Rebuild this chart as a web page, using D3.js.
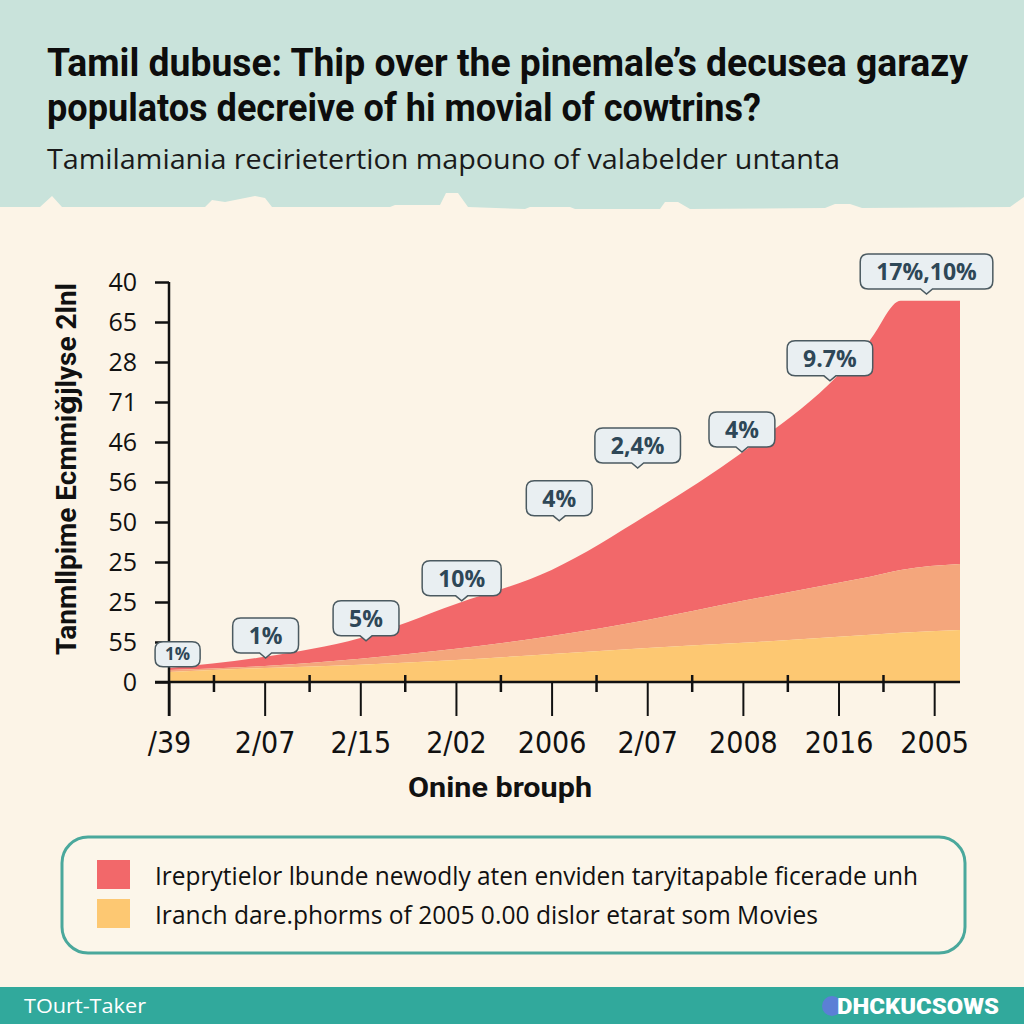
<!DOCTYPE html>
<html><head><meta charset="utf-8">
<script src="https://cdn.jsdelivr.net/npm/d3@7"></script>
<style>html,body{margin:0;padding:0;background:#fcf4e7;} svg{display:block}</style>
</head><body><svg id="c" width="1024" height="1024"></svg>
<script>
// ---- data ----
const categories = ["/39","2/07","2/15","2/02","2006","2/07","2008","2016","2005"];
const yTickLabels = ["0","55","25","25","50","56","46","71","28","65","40"];
const sampleIdx = [0,1,2,3,4,5,6,7,7.33,7.65,8.27];
const yellowTop = [0.25,0.35,0.43,0.55,0.70,0.85,0.98,1.13,1.18,1.23,1.30];
const salmonTop = [0.30,0.40,0.58,0.83,1.15,1.55,2.03,2.48,2.63,2.80,2.95];
const redTop    = [0.35,0.63,1.10,1.95,2.80,4.18,5.75,7.68,8.55,9.53,9.53];
const bubbleLabels = ["1%","1%","5%","10%","4%","2,4%","4%","9.7%","17%,10%"];
const bubbleIdx = [0.09,1.01,2.06,3.06,4.08,4.9,5.99,6.91,7.92];
const bubbleVal = [0.38,0.60,1.03,2.03,4.03,5.35,5.75,7.53,9.70];
const legendLabels = ["Ireprytielor lbunde newodly aten enviden taryitapable ficerade unh",
                      "Iranch dare.phorms of 2005 0.00 dislor etarat som Movies"];
const titleLines = ["Tamil dubuse: Thip over the pinemale\u2019s decusea garazy",
                    "populatos decreive of hi movial of cowtrins?"];
const subtitle = "Tamilamiania recirietertion mapouno of valabelder untanta";
const yTitle = "Tanmllpime Ecmmi\u01e7jlyse 2lnl";
const xTitle = "Onine brouph";

// ---- setup ----
const svg = d3.select("#c");
const C = {bg:"#fcf4e7", mint:"#c9e3db", red:"#f2686a", salmon:"#f4a67c", yellow:"#fdc872",
           ink:"#111", teal:"#31a99c", bubbleFill:"#e9eff2", bubbleStroke:"#4b5a61", bubbleText:"#2e4757"};
svg.append("rect").attr("width",1024).attr("height",1024).attr("fill",C.bg);

// header mint band with ragged edge (decorative)
const edge = [[0,207],[40,207],[52,196],[62,207],[205,207],[212,200],[225,202],[240,199],[255,196],[265,198],[272,207],[390,207],[395,205],[440,205],[446,193],[458,193],[468,207],[525,209],[530,207],[570,207],[575,209],[660,209],[665,202],[678,202],[690,209],[825,208],[835,204],[850,204],[862,208],[1010,207],[1024,197]];
svg.append("path").attr("fill",C.mint)
  .attr("d", "M0,0 L1024,0 " + edge.slice().reverse().map(p=>"L"+p[0]+","+p[1]).join(" ") + " Z");

// titles
svg.selectAll("text.title").data(titleLines).join("text")
  .attr("x",47).attr("y",(d,i)=>76+i*45)
  .attr("font-family","Roboto, 'DejaVu Sans', sans-serif").attr("font-weight",700)
  .attr("font-size",38).attr("fill","#0d0d0d")
  .attr("textLength",(d,i)=>i===0?921:714).attr("lengthAdjust","spacingAndGlyphs")
  .text(d=>d);
svg.append("text").attr("x",47).attr("y",169)
  .attr("font-family","'Open Sans', Roboto, sans-serif").attr("font-weight",400)
  .attr("font-size",28).attr("fill","#1a1a1a")
  .attr("textLength",793).attr("lengthAdjust","spacingAndGlyphs").text(subtitle);

// ---- scales ----
const x = d3.scaleLinear().domain([0, d3.max(sampleIdx)]).range([169, 960]);
const y = d3.scaleLinear().domain([0, 10]).range([682, 282]);

const rows = sampleIdx.map((s,i)=>({s, yl:yellowTop[i], sl:salmonTop[i], rd:redTop[i]}));
const curve = d3.curveMonotoneX;
const g = svg.append("g");
g.append("path").datum(rows).attr("fill",C.red)
  .attr("d", d3.area().curve(curve).x(d=>x(d.s)).y0(d=>y(d.sl)).y1(d=>y(d.rd)));
g.append("path").datum(rows).attr("fill",C.salmon)
  .attr("d", d3.area().curve(curve).x(d=>x(d.s)).y0(d=>y(d.yl)).y1(d=>y(d.sl)));
g.append("path").datum(rows).attr("fill",C.yellow)
  .attr("d", d3.area().curve(curve).x(d=>x(d.s)).y0(y(0)).y1(d=>y(d.yl)));

// ---- axes ----
const yAxis = d3.axisLeft(y).tickValues(d3.range(0,11)).tickSize(14).tickPadding(18)
  .tickFormat(d=>yTickLabels[d]);
const ya = svg.append("g").attr("transform","translate(169,0)").call(yAxis);
ya.select(".domain").remove();
ya.selectAll("line").attr("stroke",C.ink).attr("stroke-width",2.5);
ya.selectAll("text").attr("font-family","'Open Sans', 'DejaVu Sans', sans-serif")
  .attr("font-size",25).attr("fill","#111");
svg.append("line").attr("x1",169).attr("x2",169).attr("y1",y(10)).attr("y2",716)
  .attr("stroke",C.ink).attr("stroke-width",2.5);

const xAxis = d3.axisBottom(x).tickValues(d3.range(0,categories.length)).tickSize(34).tickPadding(10)
  .tickFormat(d=>categories[d]);
const xa = svg.append("g").attr("transform",`translate(0,${y(0)})`).call(xAxis);
xa.select(".domain").remove();
xa.selectAll("line").attr("stroke",C.ink).attr("stroke-width",2);
xa.selectAll("text").attr("font-family","'Liberation Sans Narrow', 'DejaVu Sans Condensed', sans-serif")
  .attr("font-size",30).attr("fill","#111").attr("dy","0.9em");
svg.append("line").attr("x1",155).attr("x2",960).attr("y1",y(0)).attr("y2",y(0))
  .attr("stroke",C.ink).attr("stroke-width",2.5);
// minor ticks
const minor = d3.range(0,categories.length-1).map(i=>i+0.47);
svg.append("g").selectAll("line").data(minor).join("line")
  .attr("x1",d=>x(d)).attr("x2",d=>x(d)).attr("y1",y(0)-7).attr("y2",y(0)+10)
  .attr("stroke",C.ink).attr("stroke-width",2.5);

// axis titles
svg.append("text").attr("transform",`translate(76,${469}) rotate(-90)`).attr("text-anchor","middle")
  .attr("font-family","Roboto, 'DejaVu Sans', sans-serif").attr("font-weight",700)
  .attr("font-size",27).attr("fill","#111")
  .attr("textLength",372).attr("lengthAdjust","spacingAndGlyphs").text(yTitle);
svg.append("text").attr("x",500).attr("y",797).attr("text-anchor","middle")
  .attr("font-family","Roboto, 'DejaVu Sans', sans-serif").attr("font-weight",700)
  .attr("font-size",28).attr("fill","#111")
  .attr("textLength",184).attr("lengthAdjust","spacingAndGlyphs").text(xTitle);

// ---- bubbles ----
const bub = svg.append("g").selectAll("g").data(bubbleLabels.map((t,i)=>({t, bx:bubbleIdx[i], bv:bubbleVal[i], i}))).join("g");
bub.each(function(d){
  const sel = d3.select(this);
  const small = d.i===0;
  const fs = small?17:23, h = small?25:35, ptr = small?0:5;
  const tx = x(d.bx), ty = y(d.bv);
  const txt = sel.append("text").attr("font-family","'Open Sans', Lato, sans-serif").attr("font-weight",700)
    .attr("font-size",fs).attr("fill",C.bubbleText).attr("text-anchor","middle").text(d.t);
  const w = txt.node().getComputedTextLength() + (small?20:32);
  const bottom = ty - ptr, top = bottom - h, l = tx - w/2, r = tx + w/2, rr = 8;
  const p = `M${l+rr},${top} H${r-rr} Q${r},${top} ${r},${top+rr} V${bottom-rr} Q${r},${bottom} ${r-rr},${bottom}`
    + (ptr?` H${tx+6} L${tx},${ty} L${tx-6},${bottom}`:"")
    + ` H${l+rr} Q${l},${bottom} ${l},${bottom-rr} V${top+rr} Q${l},${top} ${l+rr},${top} Z`;
  sel.insert("path","text").attr("d",p).attr("fill",C.bubbleFill).attr("stroke",C.bubbleStroke).attr("stroke-width",1.5);
  txt.attr("x",tx).attr("y",top+h/2).attr("dy","0.36em");
});

// ---- legend ----
svg.append("rect").attr("x",62).attr("y",837).attr("width",903).attr("height",116).attr("rx",26)
  .attr("fill","#fcf6ea").attr("stroke","#4aa89c").attr("stroke-width",3);
const lg = svg.append("g").selectAll("g").data(legendLabels).join("g")
  .attr("transform",(d,i)=>`translate(97,${860+i*39})`);
lg.append("rect").attr("width",33).attr("height",29).attr("fill",(d,i)=>i===0?C.red:C.yellow);
lg.append("text").attr("x",58).attr("y",25).attr("font-family","'Open Sans', sans-serif")
  .attr("font-size",26).attr("fill","#111")
  .attr("textLength",(d,i)=>i===0?763:663).attr("lengthAdjust","spacingAndGlyphs").text(d=>d);

// ---- footer ----
svg.append("rect").attr("x",0).attr("y",987).attr("width",1024).attr("height",37).attr("fill",C.teal);
svg.append("text").attr("x",24).attr("y",1013).attr("font-family","'Open Sans', sans-serif")
  .attr("font-size",20).attr("fill","#fff").attr("textLength",122).attr("lengthAdjust","spacingAndGlyphs").text("TOurt-Taker");
svg.append("circle").attr("cx",832).attr("cy",1006).attr("r",10).attr("fill","#5b7fd6");
svg.append("text").attr("x",999).attr("y",1014).attr("text-anchor","end").attr("font-family","Roboto, sans-serif")
  .attr("font-weight",900).attr("font-size",22).attr("fill","#fff")
  .attr("textLength",162).attr("lengthAdjust","spacingAndGlyphs").text("DHCKUCSOWS");
</script></body></html>
